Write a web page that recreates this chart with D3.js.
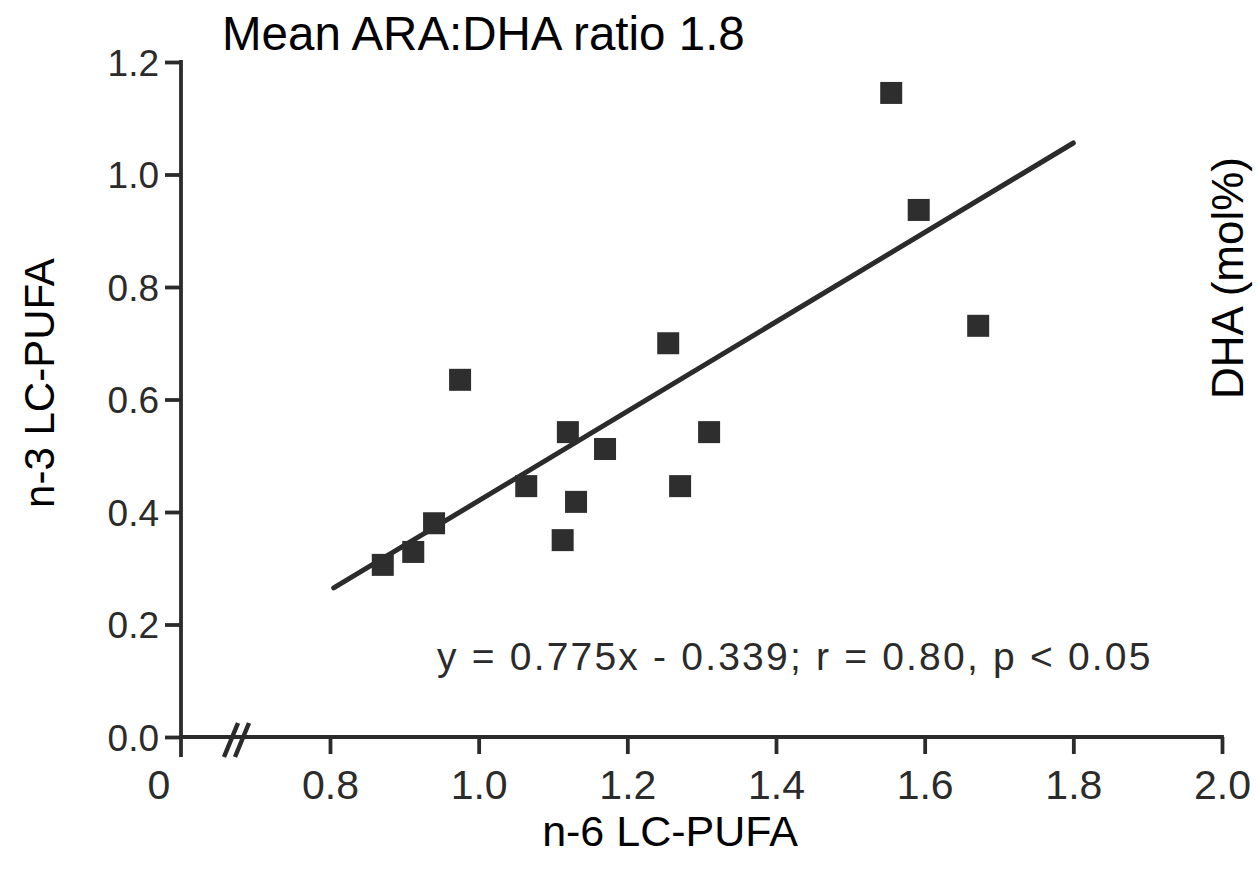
<!DOCTYPE html>
<html>
<head>
<meta charset="utf-8">
<script src="https://cdn.jsdelivr.net/npm/d3@7"></script>
<style>
  html, body { margin: 0; padding: 0; background: #fff; }
  svg { display: block; }
</style>
</head>
<body>
<svg id="chart" width="1257" height="871"></svg>
<script>
// ---- data ----
const n6Values = [0.871, 0.912, 0.940, 0.975, 1.064, 1.113, 1.120, 1.131, 1.170, 1.255, 1.271, 1.310, 1.555, 1.592, 1.672];
const n3Values = [0.306, 0.329, 0.380, 0.635, 0.446, 0.350, 0.542, 0.418, 0.512, 0.700, 0.446, 0.542, 1.145, 0.937, 0.731];
const fitX = [0.805, 1.80];
const fitY = [0.265, 1.056];
const xTicks = [0.8, 1.0, 1.2, 1.4, 1.6, 1.8, 2.0];
const yTicks = [0.0, 0.2, 0.4, 0.6, 0.8, 1.0, 1.2];
const xBreakLabel = "0";
const titleText = "Mean ARA:DHA ratio 1.8";
const xTitle = "n-6 LC-PUFA";
const yTitle = "n-3 LC-PUFA";
const rightTitle = "DHA (mol%)";
const equationText = "y = 0.775x - 0.339; r = 0.80, p < 0.05";

const svg = d3.select("#chart");
const ink = "#2b2b2b";
const axisX0 = 181;   // position of the broken-axis origin
const font = "Liberation Sans, Arial, Helvetica, sans-serif";

const x = d3.scaleLinear().domain([0.8, 2.0]).range([330, 1222]);
const y = d3.scaleLinear().domain([0, 1.2]).range([737, 62]);

// y axis
const gy = svg.append("g").attr("transform", `translate(${axisX0},0)`)
  .call(d3.axisLeft(y).tickValues(yTicks).tickFormat(d3.format(".1f"))
        .tickSize(16).tickSizeOuter(0).tickPadding(6));
gy.select(".domain").remove();
gy.selectAll(".tick line").attr("stroke", ink).attr("stroke-width", 3.8);
gy.selectAll(".tick text").attr("fill", ink).attr("font-family", font)
  .attr("font-size", 37).attr("dy", "0.36em");
svg.append("line").attr("x1", axisX0).attr("x2", axisX0)
  .attr("y1", y(1.2) - 1.9).attr("y2", y(0) + 20)
  .attr("stroke", ink).attr("stroke-width", 3.8);

// x axis
const gx = svg.append("g").attr("transform", `translate(0,${y(0)})`)
  .call(d3.axisBottom(x).tickValues(xTicks).tickFormat(d3.format(".1f"))
        .tickSize(17).tickSizeOuter(0).tickPadding(16));
gx.select(".domain").remove();
gx.selectAll(".tick line").attr("stroke", ink).attr("stroke-width", 3.8);
gx.selectAll(".tick text").attr("fill", ink).attr("font-family", font)
  .attr("font-size", 41).attr("dy", "0.71em");
svg.append("line").attr("x1", axisX0 - 1.9).attr("x2", x(2.0) + 1.9)
  .attr("y1", y(0)).attr("y2", y(0))
  .attr("stroke", ink).attr("stroke-width", 3.8);
// break label "0"
svg.append("text").attr("x", axisX0 - 22).attr("y", y(0) + 33).attr("dy", "0.71em")
  .attr("text-anchor", "middle").attr("font-family", font).attr("font-size", 41)
  .attr("fill", ink).text(xBreakLabel);
// break marks //
[0, 11].forEach(off => {
  svg.append("line")
    .attr("x1", 224 + off).attr("y1", y(0) + 20)
    .attr("x2", 238 + off).attr("y2", y(0) - 14)
    .attr("stroke", ink).attr("stroke-width", 4.5);
});

// regression line
svg.append("line")
  .attr("x1", x(fitX[0])).attr("y1", y(fitY[0]))
  .attr("x2", x(fitX[1])).attr("y2", y(fitY[1]))
  .attr("stroke", ink).attr("stroke-width", 5).attr("stroke-linecap", "round");

// points
const s = 22;
svg.append("g").selectAll("rect").data(n6Values.map((v, i) => [v, n3Values[i]]))
  .join("rect")
  .attr("x", d => x(d[0]) - s / 2).attr("y", d => y(d[1]) - s / 2)
  .attr("width", s).attr("height", s).attr("fill", "#2e2e2e");

// equation
svg.append("text").attr("x", 437).attr("y", 670)
  .attr("font-family", font).attr("font-size", 39).attr("letter-spacing", 2.2)
  .attr("fill", ink).text(equationText);

// titles
svg.append("text").attr("x", 222).attr("y", 50)
  .attr("font-family", font).attr("font-size", 47.5).attr("fill", "#000").text(titleText);
svg.append("text").attr("x", 670).attr("y", 846).attr("text-anchor", "middle")
  .attr("font-family", font).attr("font-size", 43).attr("fill", "#000").text(xTitle);
svg.append("text").attr("transform", "translate(54,383) rotate(-90)").attr("text-anchor", "middle")
  .attr("font-family", font).attr("font-size", 42).attr("fill", "#000").text(yTitle);
svg.append("text").attr("transform", "translate(1243,278) rotate(-90)").attr("text-anchor", "middle")
  .attr("font-family", font).attr("font-size", 44).attr("fill", "#000").text(rightTitle);
</script>
</body>
</html>
